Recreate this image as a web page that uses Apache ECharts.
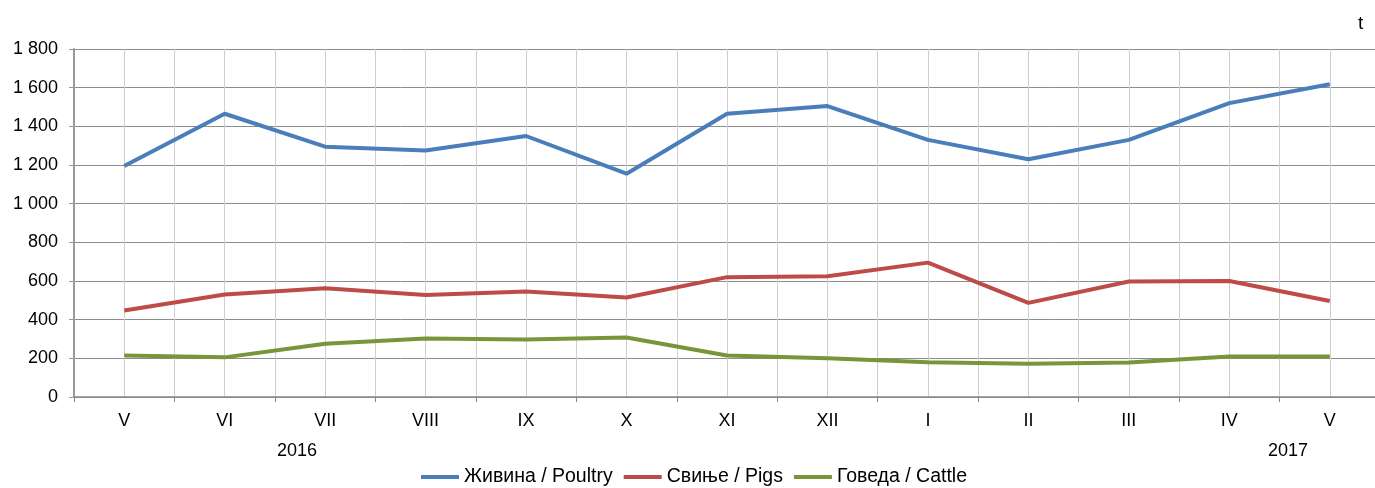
<!DOCTYPE html>
<html><head><meta charset="utf-8">
<script src="https://cdn.jsdelivr.net/npm/echarts@6/dist/echarts.min.js"></script>
<style>html,body{margin:0;padding:0;background:#fff;overflow:hidden}#c{width:1392px;height:488px}</style>
</head><body><div id="c"></div>
<script>
const categories = ['V','VI','VII','VIII','IX','X','XI','XII','I','II','III','IV','V'];
const poultry = [1195,1465,1295,1275,1350,1155,1465,1505,1330,1230,1330,1520,1618];
const pigs = [447,530,563,528,546,515,620,625,695,487,597,600,497];
const cattle = [215,205,275,302,298,308,215,200,180,172,178,210,210];
const yTicks = [0,200,400,600,800,1000,1200,1400,1600,1800];
const seriesNames = ['Живина / Poultry','Свиње / Pigs','Говеда / Cattle'];
const colors = ['#4A7EBB','#BE4B48','#77963A'];
const FONT = '"Liberation Sans",Arial,sans-serif';

const chart = echarts.init(document.getElementById('c'));
const halfCats = [];
categories.forEach(()=>{halfCats.push('');halfCats.push('');});
chart.setOption({
  animation:false,
  textStyle:{fontFamily:FONT},
  grid:{left:74,top:49,width:1306,height:348,containLabel:false},
  legend:{
    data:seriesNames, top:467, left:421, padding:0, itemWidth:38, itemHeight:4, itemGap:11,
    icon:'rect',
    textStyle:{fontSize:19.5,color:'#000',fontFamily:FONT}
  },
  xAxis:[{
    type:'category', data:categories, boundaryGap:true,
    axisLine:{lineStyle:{color:'#888',width:1.5}},
    axisTick:{show:true,length:5,lineStyle:{color:'#888'}},
    axisLabel:{fontSize:18,color:'#000',margin:15,fontFamily:FONT},
    splitLine:{show:false}
  },{
    type:'category', data:halfCats, boundaryGap:true, position:'bottom',
    axisLine:{show:false}, axisTick:{show:false}, axisLabel:{show:false},
    splitLine:{show:true,lineStyle:{color:'#cfcfcf',width:1}}
  }],
  yAxis:{
    type:'value', min:0, max:1800, interval:200,
    axisLine:{show:true,lineStyle:{color:'#999',width:2}},
    axisTick:{show:true,length:5,lineStyle:{color:'#999'}},
    axisLabel:{fontSize:18,color:'#000',margin:16,fontFamily:FONT,
      formatter:v=>String(v).replace(/\B(?=(\d{3})+(?!\d))/g,' ')},
    splitLine:{lineStyle:{color:'#8c8c8c',width:1}}
  },
  graphic:[
    {type:'text',left:1358,top:14,style:{text:'t',font:'19px '+FONT,fill:'#000'}},
    {type:'text',left:277,top:442,style:{text:'2016',font:'18px '+FONT,fill:'#000'}},
    {type:'text',left:1268,top:442,style:{text:'2017',font:'18px '+FONT,fill:'#000'}}
  ],
  series:[poultry,pigs,cattle].map((d,i)=>({
    name:seriesNames[i], type:'line', data:d, xAxisIndex:0,
    symbol:'none', lineStyle:{width:4,color:colors[i]}, itemStyle:{color:colors[i]}
  }))
});
</script></body></html>
